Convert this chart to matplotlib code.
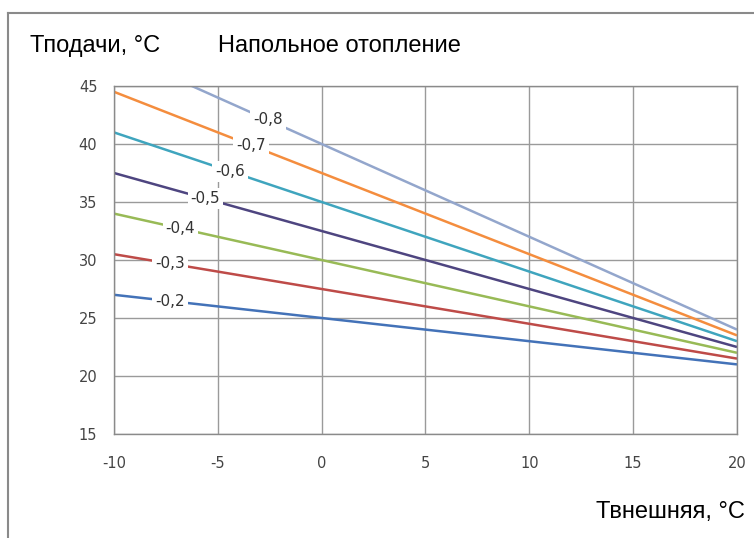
#!/usr/bin/env python3

import matplotlib
matplotlib.use('Agg')
import matplotlib.pyplot as plt
from matplotlib.lines import Line2D
import numpy as np

# %%
# outdoor temperature (end points of each heating curve)
T_OUT = [-10, 20]

# flow temperature per curve slope
SLOPES = ['-0,2', '-0,3', '-0,4', '-0,5', '-0,6', '-0,7', '-0,8']
T_FLOW = [
    [27.0, 21.0],
    [30.5, 21.5],
    [34.0, 22.0],
    [37.5, 22.5],
    [41.0, 23.0],
    [44.5, 23.5],
    [48.0, 24.0],
]
# where the slope labels sit along each line (outdoor temp)
LABEL_X = [-7.3, -7.3, -6.8, -5.6, -4.4, -3.4, -2.6]

COLORS = ['#4372B8', '#BE4B48', '#98BA56', '#4E4580',
          '#3FA5BE', '#F48D3E', '#93A6CC']

X_TICKS = [-10, -5, 0, 5, 10, 15, 20]
Y_TICKS = [15, 20, 25, 30, 35, 40, 45]

plt.rcParams['axes.unicode_minus'] = False

W, H = 754, 538
fig = plt.figure(figsize=(W / 100, H / 100), dpi=100)
ax = fig.add_axes([114 / W, 1 - 434 / H, (737 - 114) / W, (434 - 86) / H])

for label, ys, lx, c in zip(SLOPES, T_FLOW, LABEL_X, COLORS):
    ax.plot(T_OUT, ys, color=c, linewidth=1.8, solid_capstyle='butt')
    ly = np.interp(lx, T_OUT, ys)
    ax.text(lx, ly, label, ha='center', va='center', fontsize=11,
            color='#333333', family='DejaVu Sans',
            bbox=dict(boxstyle='square,pad=0.2', fc='white', ec='none'))

ax.set_xlim(-10, 20)
ax.set_ylim(15, 45)
ax.set_xticks(X_TICKS)
ax.set_yticks(Y_TICKS)
ax.grid(color='#9a9a9a', linewidth=1.0)
ax.set_axisbelow(True)
for s in ax.spines.values():
    s.set_color('#8a8a8a')
    s.set_linewidth(1.0)
ax.tick_params(length=0, labelsize=10.5, labelcolor='#444444')
ax.tick_params(axis='x', pad=16)
ax.tick_params(axis='y', pad=12)

# captions
fig.text(30 / W, 1 - 46 / H, 'Тподачи, °С', fontsize=17,
         family='Liberation Sans', va='center', ha='left')
fig.text(218 / W, 1 - 46 / H, 'Напольное отопление', fontsize=17,
         family='Liberation Sans', va='center', ha='left')
fig.text(745 / W, 1 - 512 / H, 'Твнешняя, °С', fontsize=17,
         family='Liberation Sans', va='center', ha='right')

# outer frame
fig.add_artist(Line2D([8 / W, 1], [1 - 13 / H, 1 - 13 / H],
                      color='#8a8a8a', linewidth=1.5))
fig.add_artist(Line2D([8 / W, 8 / W], [0, 1 - 13 / H],
                      color='#8a8a8a', linewidth=1.5))

fig.savefig('out.png', dpi=100)
